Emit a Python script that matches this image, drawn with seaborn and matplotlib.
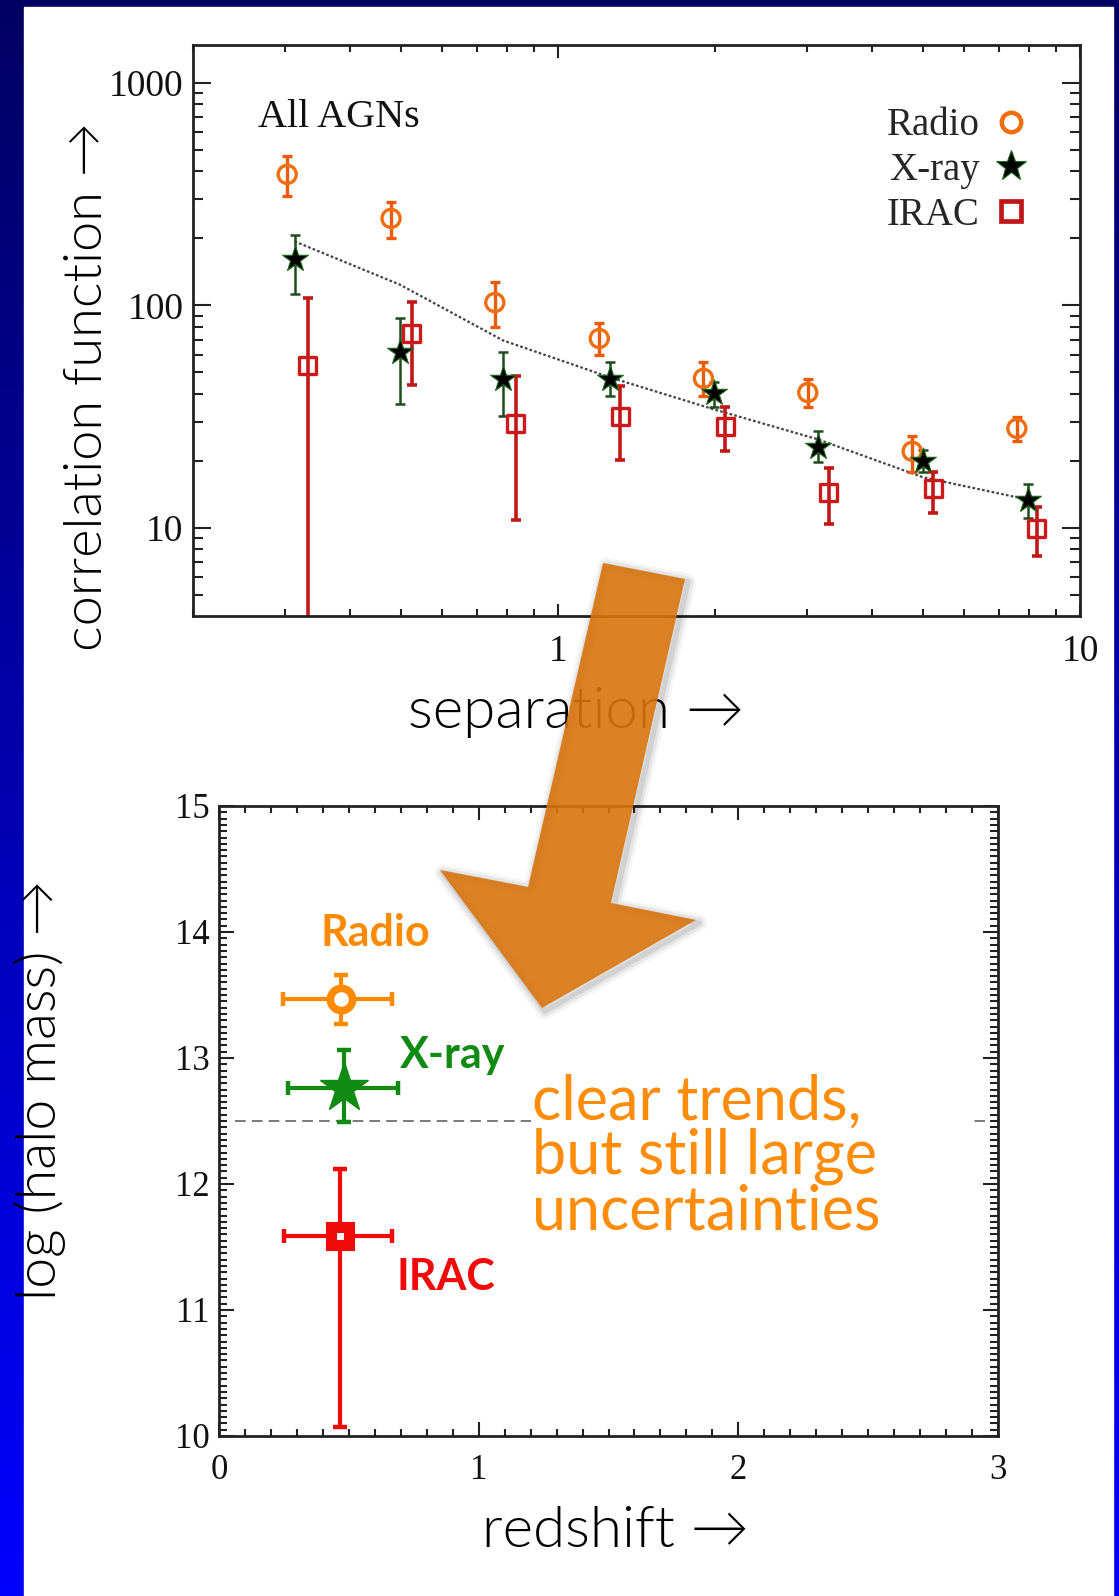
import numpy as np
import pandas as pd
import seaborn as sns
import matplotlib
matplotlib.use("Agg")
import matplotlib.pyplot as plt
from matplotlib.patches import Polygon, Rectangle
from matplotlib.lines import Line2D
from matplotlib.colors import LinearSegmentedColormap
from matplotlib.ticker import (FuncFormatter, NullFormatter, MultipleLocator,
                               LogLocator)

# ---------------- correlation function vs separation ----------------
radio_sep = [0.303, 0.479, 0.757, 1.20, 1.90, 3.01, 4.77, 7.57]
radio_xi = [388, 246, 103, 71, 47, 40.6, 22.1, 28]
radio_lo = [309, 200, 79.6, 60, 39, 34.8, 17.8, 24.5]
radio_hi = [467, 293, 127, 83, 55.4, 46.5, 26, 31.4]

xray_sep = [0.313, 0.498, 0.785, 1.258, 1.99, 3.15, 5.0, 7.95]
xray_xi = [161, 62, 46.5, 46.5, 40.6, 23.2, 19.9, 13.4]
xray_lo = [113, 35.9, 31.7, 39, 34.8, 19.7, 17.8, 11.1]
xray_hi = [208, 88, 61.5, 55.4, 45.5, 27.2, 22.5, 15.7]

irac_sep = [0.332, 0.525, 0.831, 1.315, 2.09, 3.30, 5.23, 8.27]
irac_xi = [53.7, 74.8, 29.5, 31.7, 28.6, 14.4, 15.1, 9.95]
irac_lo = [1.0, 43.7, 10.8, 20.3, 22.1, 10.4, 11.7, 7.5]
irac_hi = [107.5, 104, 48, 43.3, 34.8, 18.5, 17.9, 12.4]

model_sep = [0.313, 0.498, 0.785, 1.258, 1.99, 3.15, 5.0, 7.95]
model_xi = [194, 124, 69.6, 47.5, 34.1, 25.0, 16.9, 13.4]

# ---------------- halo mass vs redshift ----------------
sample_names = ["Radio", "X-ray", "IRAC"]
z_mean = [0.470, 0.481, 0.466]
z_lo = [0.246, 0.266, 0.250]
z_hi = [0.666, 0.689, 0.666]
mass = [13.47, 12.76, 11.59]
mass_lo = [13.27, 12.49, 10.07]
mass_hi = [13.66, 13.06, 12.12]
mass_threshold = 12.5

ORANGE = "#ff8a00"
GREEN = "#118a11"
RED = "#f00a0a"

sns.set_theme(style="ticks")
plt.rcParams["font.family"] = ["Liberation Serif", "DejaVu Serif"]

W, H = 1119, 1596
fig = plt.figure(figsize=(W / 100, H / 100), dpi=100)


def fx(px):
    return px / W


def fy(py):
    return 1 - py / H


# slide background: blue gradient with a white panel
bg = fig.add_axes([0, 0, 1, 1], zorder=-10)
grad = np.linspace(0, 1, 256).reshape(-1, 1)
bg.imshow(grad, aspect="auto", extent=[0, 1, 0, 1], origin="upper",
          cmap=LinearSegmentedColormap.from_list("slide", ["#000062", "#0000ff"]))
bg.add_patch(Rectangle((fx(24), 0), fx(1113) - fx(24), fy(7), color="white"))
bg.set_xlim(0, 1)
bg.set_ylim(0, 1)
bg.axis("off")


def style_axes(ax, lw=2.0):
    for s in ax.spines.values():
        s.set_linewidth(lw)
        s.set_color("#222222")
        s.set_visible(True)
    ax.set_facecolor("white")


# ================= top panel =================
ax1 = fig.add_axes([fx(193), fy(616), fx(1080) - fx(193), fy(45) - fy(616)])
style_axes(ax1)
ax1.set_xscale("log")
ax1.set_yscale("log")

radio_df = pd.DataFrame({"sep": radio_sep, "xi": radio_xi})
xray_df = pd.DataFrame({"sep": xray_sep, "xi": xray_xi})
irac_df = pd.DataFrame({"sep": irac_sep, "xi": irac_xi})
model_df = pd.DataFrame({"sep": model_sep, "xi": model_xi})

sns.lineplot(data=model_df, x="sep", y="xi", ax=ax1, color="#444444",
             lw=1.6, ls=(0, (1.2, 1.0)), zorder=1)


def asym(v, lo, hi):
    v, lo, hi = map(np.asarray, (v, lo, hi))
    return np.vstack([v - lo, hi - v])


ax1.errorbar(radio_sep, radio_xi, yerr=asym(radio_xi, radio_lo, radio_hi),
             fmt="none", ecolor="#ec5a0c", elinewidth=2.4, capsize=3.8,
             capthick=2.4, zorder=2)
ax1.errorbar(xray_sep, xray_xi, yerr=asym(xray_xi, xray_lo, xray_hi),
             fmt="none", ecolor="#1d4d1d", elinewidth=1.8, capsize=3.8,
             capthick=1.8, zorder=2)
ax1.errorbar(irac_sep, irac_xi, yerr=asym(irac_xi, irac_lo, irac_hi),
             fmt="none", ecolor="#c01818", elinewidth=2.6, capsize=3.8,
             capthick=2.6, zorder=2)

sns.scatterplot(data=radio_df, x="sep", y="xi", ax=ax1, marker="o", s=170,
                facecolors="none", edgecolor="#f06e10", linewidth=2.4, zorder=3)
sns.scatterplot(data=xray_df, x="sep", y="xi", ax=ax1, marker="*", s=380,
                color="black", edgecolor="#1b6b1b", linewidth=0.8, zorder=3)
sns.scatterplot(data=irac_df, x="sep", y="xi", ax=ax1, marker="s", s=150,
                facecolors="none", edgecolor="#cc1a1a", linewidth=2.4, zorder=3)

ax1.set_xlim(0.2, 10)
ax1.set_ylim(4.02, 1480)
ax1.set_xlabel("")
ax1.set_ylabel("")
ax1.xaxis.set_major_locator(LogLocator(base=10))
ax1.xaxis.set_minor_locator(LogLocator(base=10, subs=np.arange(2, 10)))
ax1.xaxis.set_major_formatter(FuncFormatter(lambda v, p: f"{v:g}"))
ax1.xaxis.set_minor_formatter(NullFormatter())
ax1.yaxis.set_major_formatter(FuncFormatter(lambda v, p: f"{v:g}"))
ax1.yaxis.set_minor_formatter(NullFormatter())
ax1.tick_params(which="both", direction="in", top=True, right=True,
                color="#222222", width=1.5, labelsize=27,
                labelfontfamily="Liberation Serif", labelcolor="#111111")
ax1.tick_params(axis="y", which="major", length=13, pad=7)
ax1.tick_params(axis="y", which="minor", length=7)
ax1.tick_params(axis="x", which="major", length=9, pad=13)
ax1.tick_params(axis="x", which="minor", length=5)

ax1.text(0.073, 0.856, "All AGNs", transform=ax1.transAxes,
         fontsize=29, va="baseline", color="#111111")

handles = [
    Line2D([], [], ls="none", marker="o", ms=14, mfc="none", mec="#f06e10", mew=3.2),
    Line2D([], [], ls="none", marker="*", ms=23, mfc="black", mec="#1b6b1b", mew=0.8),
    Line2D([], [], ls="none", marker="s", ms=14, mfc="none", mec="#c01818", mew=3.4),
]
ax1.legend(handles, sample_names, loc="upper right",
           bbox_to_anchor=(0.944, 0.891), markerfirst=False, frameon=False,
           prop=dict(family="Liberation Serif", size=28), handlelength=1.0,
           handletextpad=0.3, labelspacing=0.2, borderpad=0, borderaxespad=0)

# ================= bottom panel =================
ax2 = fig.add_axes([fx(219), fy(1436), fx(998) - fx(219), fy(806) - fy(1436)])
style_axes(ax2)

ax2.hlines(mass_threshold, 0.062, 2.95, colors="#555555", lw=1.1,
           linestyles=(0, (7, 4)), zorder=1)
# white text box that sits over the threshold line
ax2.add_patch(Rectangle((1.20, 12.3), 1.69, 0.6, facecolor="white",
                        edgecolor="none", zorder=1.5))

markers = [dict(marker="o", ms=16, mfc="white", mec=ORANGE, mew=5.5),
           dict(marker="*", ms=37, mfc=GREEN, mec=GREEN, mew=1),
           dict(marker="s", ms=13, mfc="white", mec=RED, mew=8)]
colors = [ORANGE, GREEN, RED]
for i in range(3):
    ax2.errorbar([z_mean[i]], [mass[i]],
                 xerr=[[z_mean[i] - z_lo[i]], [z_hi[i] - z_mean[i]]],
                 yerr=[[mass[i] - mass_lo[i]], [mass_hi[i] - mass[i]]],
                 fmt="none", ecolor=colors[i], elinewidth=3.0, capsize=5.2,
                 capthick=3.2, zorder=2)
    ax2.plot([z_mean[i]], [mass[i]], ls="none", zorder=3, **markers[i])

ax2.set_xlim(0, 3)
ax2.set_ylim(10, 15)
ax2.xaxis.set_major_locator(MultipleLocator(1))
ax2.xaxis.set_minor_locator(MultipleLocator(0.1))
ax2.yaxis.set_major_locator(MultipleLocator(1))
ax2.yaxis.set_minor_locator(MultipleLocator(0.05))
ax2.tick_params(which="both", direction="in", top=True, right=True,
                color="#222222", width=1.5, labelsize=25,
                labelfontfamily="Liberation Serif", labelcolor="#111111")
ax2.tick_params(axis="y", which="major", length=11, pad=7)
ax2.tick_params(axis="y", which="minor", length=6)
ax2.tick_params(axis="x", which="major", length=10, pad=13)
ax2.tick_params(axis="x", which="minor", length=5)

label_pos = [(0.389, 13.89), (0.697, 12.92), (0.685, 11.16)]
for name, (lx, ly), c in zip(sample_names, label_pos, colors):
    ax2.text(lx, ly, name, color=c, fontsize=31, fontweight="bold",
             family="Lato", va="baseline", zorder=4)

ax2.text(1.205, 12.88, "clear trends,\nbut still large\nuncertainties",
         color="#ff8c0a", fontsize=44, family="Lato", va="top", ha="left",
         linespacing=0.95, zorder=4)

# axis titles
sans = dict(family="Lato", fontweight=300, color="black", zorder=3)
fig.text(fx(576), fy(728), "separation \u2192", fontsize=42, ha="center",
         va="baseline", **sans)
fig.text(fx(615), fy(1547), "redshift \u2192", fontsize=42, ha="center",
         va="baseline", **sans)
fig.text(fx(88), fy(387), "correlation function \u2192", fontsize=39,
         rotation=90, ha="center", va="center", **sans)
fig.text(fx(40), fy(1090), "log (halo mass) \u2192", fontsize=40,
         rotation=90, ha="center", va="center", **sans)

# big arrow from the top panel down to the bottom panel
arrow_px = [(603, 563), (685, 579), (611, 903), (696, 920), (542, 1008),
            (440, 870), (528, 887)]
arrow_fig = [(fx(x), fy(y)) for x, y in arrow_px]
shadow_fig = [(fx(x + 3), fy(y + 3)) for x, y in arrow_px]
for lw, a in [(12, 0.04), (8, 0.06), (4, 0.09)]:
    fig.patches.append(Polygon(shadow_fig, closed=True, transform=fig.transFigure,
                               facecolor="none", edgecolor="black", lw=lw,
                               alpha=a, joinstyle="round", zorder=19))
fig.patches.append(Polygon(arrow_fig, closed=True, transform=fig.transFigure,
                           facecolor="#d8740e", edgecolor="none", alpha=0.9,
                           zorder=20))

fig.savefig("out.png", dpi=100)
